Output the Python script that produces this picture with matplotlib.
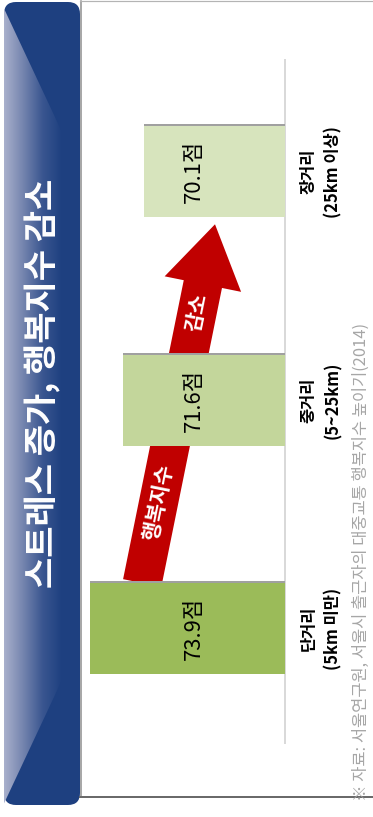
import numpy as np
import matplotlib
matplotlib.use("Agg")
import matplotlib.pyplot as plt
from matplotlib.patches import FancyBboxPatch, Polygon

plt.rcParams['font.family'] = ['Noto Sans CJK KR', 'DejaVu Sans']

# 통근거리별 행복지수 (점)
categories = ['단거리\n(5km 미만)', '중거리\n(5~25km)', '장거리\n(25km 이상)']
scores = [73.9, 71.6, 70.1]
bar_colors = ['#9BBB59', '#C3D69B', '#D7E4BD']
axis_min = 60

title = '스트레스 증가, 행복지수 감소'
source = '※ 자료: 서울연구원, 서울시 출근자의 대중교통 행복지수 높이기(2014)'
arrow_words = ['행복지수', '감소']

W, H = 373, 817
DPI = 72
fig = plt.figure(figsize=(W / DPI, H / DPI), dpi=DPI)
fig.patch.set_facecolor('white')

# background layer in pixel units (title band, frame, source note)
bg = fig.add_axes([0, 0, 1, 1], zorder=0)
bg.set_xlim(0, W)
bg.set_ylim(H, 0)
bg.axis('off')

navy = '#1E4080'
band = FancyBboxPatch((4, 2), 76, 803, boxstyle='round,pad=0,rounding_size=12',
                      fc=navy, ec='none', zorder=1)
bg.add_patch(band)

# glossy highlight on the left side of the band
grad = np.linspace(0, 1, 200)[None, :]
cmap = matplotlib.colors.LinearSegmentedColormap.from_list(
    'gloss', ['#A9B0CC', '#7484AE', '#3A5690', navy])
img = bg.imshow(grad, extent=(4, 62, 805, 2), cmap=cmap, aspect='auto', zorder=2)
shine = Polygon([(0, 0), (62, 132), (62, 680), (0, 812)], closed=True,
                transform=bg.transData, fc='none', ec='none')
bg.add_patch(shine)
img.set_clip_path(shine)
bg.set_xlim(0, W)
bg.set_ylim(H, 0)

bg.plot([80.5, 80.5], [1, 797], color='#8C8C8C', lw=1.5, zorder=3)
bg.plot([80, W], [1, 1], color='#B4B4B4', lw=1.2, zorder=3)
bg.plot([80, W], [797, 797], color='#6A6A6A', lw=2, zorder=3)

bg.text(43, 383, title, rotation=90, ha='center', va='center',
        color='white', fontsize=34, fontweight='bold', zorder=4)
bg.text(361, 801, source, rotation=90, ha='center', va='bottom',
        color='#A6A6A6', fontsize=16.5, zorder=4)

# chart layer: bars grow leftward from the baseline on the right
x0, x1 = 80, 285
y_top, y_bot = 60, 743
ax = fig.add_axes([x0 / W, (H - y_bot) / H, (x1 - x0) / W, (y_bot - y_top) / H], zorder=1)
ax.set_facecolor('none')
px_per_pt = 14.0
ax.set_xlim(axis_min + (x1 - x0) / px_per_pt, axis_min)
ax.set_ylim(-0.5, -0.5 + (y_bot - y_top) / 228.5)

ypos = np.arange(len(scores))
vals = np.array(scores) - axis_min
ax.barh(ypos + 0.008, vals, left=axis_min, height=0.4, color='#A0A0A0', zorder=3)
ax.barh(ypos, vals, left=axis_min, height=0.4, color=bar_colors, zorder=4)

for y, v in zip(ypos, scores):
    ax.text(66.5, y, f'{v}점', rotation=90, ha='center', va='center',
            fontsize=22, color='black', zorder=5)

for y, lab in zip(ypos, categories):
    ax.annotate(lab, xy=(axis_min, y), xytext=(36, 0), textcoords='offset points',
                rotation=90, ha='center', va='center', multialignment='center',
                fontsize=16.5, fontweight='bold', linespacing=1.45, annotation_clip=False)

# red trend arrow from the short-distance bar up toward the long-distance bar
start = (70.2, 0.2)
end = (65.0, 1.77)
ax.annotate('', xy=end, xytext=start, zorder=2, annotation_clip=False,
            arrowprops=dict(arrowstyle='simple,head_length=0.61,head_width=0.78,tail_width=0.39',
                            mutation_scale=100, fc='#C00000', ec='none',
                            shrinkA=0, shrinkB=0))

fig.canvas.draw()
p0 = ax.transData.transform(start)
p1 = ax.transData.transform(end)
angle = np.degrees(np.arctan2(p1[1] - p0[1], p1[0] - p0[0]))
for word, t in zip(arrow_words, [0.225, 0.755]):
    xt = start[0] + (end[0] - start[0]) * t
    yt = start[1] + (end[1] - start[1]) * t
    ax.text(xt, yt, word, rotation=angle, rotation_mode='anchor', ha='center', va='center',
            color='white', fontsize=21, fontweight='bold', zorder=2.5)

ax.spines[['left', 'top', 'bottom']].set_visible(False)
ax.spines['right'].set_color('#D9D9D9')
ax.spines['right'].set_linewidth(2)
ax.set_xticks([])
ax.set_yticks([])

fig.savefig('out.png', dpi=DPI)
